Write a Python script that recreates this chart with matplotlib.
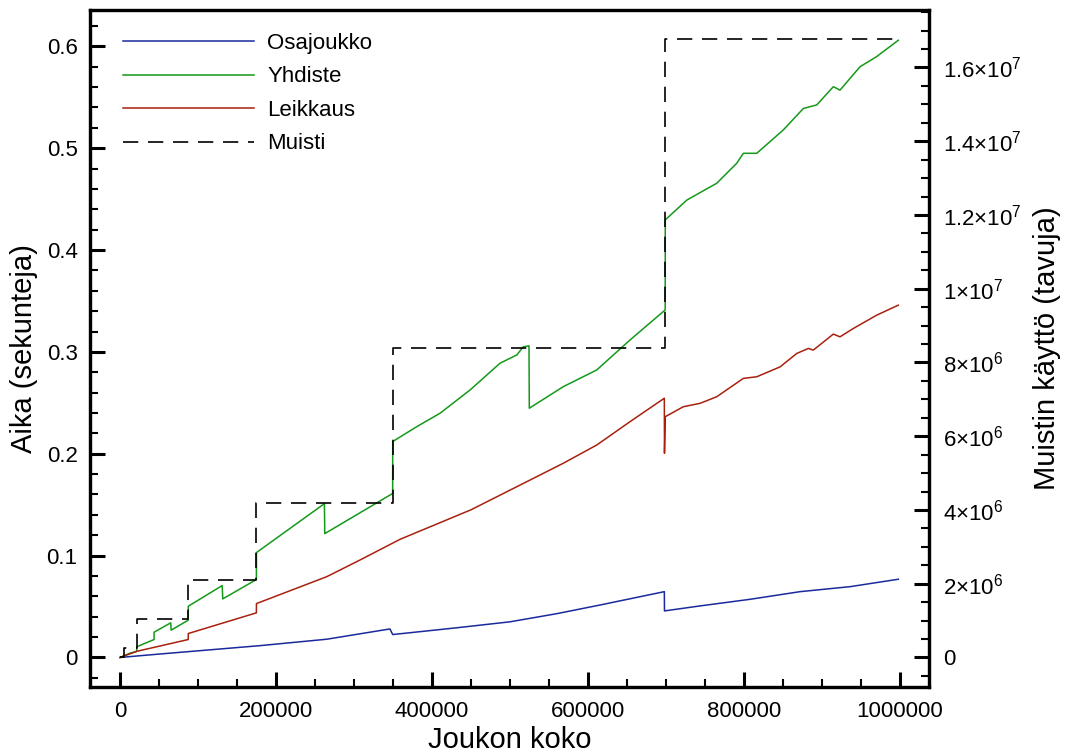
import matplotlib
matplotlib.use("Agg")
import matplotlib.pyplot as plt
from matplotlib.ticker import MultipleLocator, FuncFormatter
import math

plt.rcParams['font.family'] = ['Liberation Sans', 'DejaVu Sans']
plt.rcParams['mathtext.fontset'] = 'custom'
plt.rcParams['mathtext.rm'] = 'Liberation Sans'
plt.rcParams['mathtext.it'] = 'Liberation Sans:italic'
plt.rcParams['mathtext.bf'] = 'Liberation Sans:bold'
plt.rcParams['lines.scale_dashes'] = False

# --- Osajoukko (subset) timing, seconds ---
osa_n = [0, 51300, 179500, 265000, 346000, 349600, 430000, 500000, 560000,
         615400, 697800, 698000, 743600, 807700, 871800, 935900, 997800]
osa_t = [0.0, 0.0034, 0.0116, 0.0179, 0.0280, 0.0225, 0.0290, 0.0350, 0.0430,
         0.0515, 0.0646, 0.0457, 0.0506, 0.0571, 0.0646, 0.0695, 0.0768]

# --- Yhdiste (union) timing, seconds ---
yhd_n = [0, 12000, 21400, 21500, 43600, 43700, 65000, 65500, 87400, 87500,
         131000, 131700, 174800, 174900, 262000, 262500, 349500, 349600,
         380400, 410300, 448700, 487200, 508600, 517000, 524300, 524700,
         568300, 611200, 653800, 698900, 699000, 726500, 765000, 790600,
         799100, 816300, 850400, 876000, 893200, 914500, 923000, 948700,
         970100, 997800]
yhd_t = [0.0, 0.004, 0.006, 0.0105, 0.0176, 0.0248, 0.034, 0.0268, 0.0366, 0.0503,
         0.0706, 0.0575, 0.0765, 0.103, 0.151, 0.1216, 0.161, 0.212,
         0.2266, 0.2398, 0.2626, 0.2889, 0.297, 0.305, 0.306, 0.2447,
         0.2659, 0.2823, 0.3117, 0.3412, 0.4296, 0.449, 0.4656, 0.4852,
         0.495, 0.495, 0.518, 0.539, 0.5425, 0.5604, 0.557, 0.580,
         0.590, 0.606]

# --- Leikkaus (intersection) timing, seconds ---
lei_n = [0, 21400, 87400, 87500, 174800, 174900, 265000, 307700, 359000,
         450000, 534200, 568300, 611200, 653800, 697800, 698000, 699000,
         722200, 743600, 765000, 799100, 816300, 846200, 867600, 882400,
         888800, 914500, 923000, 940100, 970100, 997800]
lei_t = [0.0, 0.006, 0.0176, 0.0235, 0.0438, 0.0529, 0.0793, 0.0957, 0.116,
         0.145, 0.1775, 0.1907, 0.2086, 0.2315, 0.2545, 0.2005, 0.2364,
         0.2462, 0.2495, 0.256, 0.274, 0.2756, 0.2853, 0.2985, 0.3034,
         0.3018, 0.3175, 0.3148, 0.323, 0.3361, 0.3459]

# --- Muisti (memory use), bytes ---
mem_n = [0, 5000, 21400, 87400, 174800, 349500, 699000, 1000000]
mem_b = [0, 262144, 1048576, 2097152, 4194304, 8388608, 16777216, 16777216]

W, H = 1066, 756
fig = plt.figure(figsize=(W / 100, H / 100), dpi=100)
ax = fig.add_axes([90 / W, 1 - 687.3 / H, 839.3 / W, 677.3 / H])
ax2 = ax.twinx()

c_blue = '#1a2a9c'
c_green = '#14991a'
c_red = '#a8200e'

l1, = ax.plot(osa_n, osa_t, color=c_blue, lw=1.1, label='Osajoukko')
l2, = ax.plot(yhd_n, yhd_t, color=c_green, lw=1.1, label='Yhdiste')
l3, = ax.plot(lei_n, lei_t, color=c_red, lw=1.1, label='Leikkaus')
l4, = ax2.plot(mem_n, mem_b, color='black', lw=1.2, drawstyle='steps-post',
               linestyle=(0, (11, 7)), label='Muisti')

ax.set_xlim(-38500, 1037500)
ax.set_ylim(-0.0293, 0.6357)
ax2.set_ylim(-0.0293 * 27.62e6, 0.6357 * 27.62e6)

ax.xaxis.set_major_locator(MultipleLocator(200000))
ax.xaxis.set_minor_locator(MultipleLocator(50000))
ax.yaxis.set_major_locator(MultipleLocator(0.1))
ax.yaxis.set_minor_locator(MultipleLocator(0.02))
ax2.yaxis.set_major_locator(MultipleLocator(2e6))
ax2.yaxis.set_minor_locator(MultipleLocator(5e5))

ax.xaxis.set_major_formatter(FuncFormatter(lambda v, p: '%d' % round(v)))
ax.yaxis.set_major_formatter(FuncFormatter(lambda v, p: '%g' % round(v, 3)))


def mem_fmt(v, p):
    if abs(v) < 1:
        return '0'
    e = int(math.floor(math.log10(abs(v))))
    m = v / 10 ** e
    return '%g×10$^{%d}$' % (round(m, 2), e)


ax2.yaxis.set_major_formatter(FuncFormatter(mem_fmt))

for a in (ax, ax2):
    for s in a.spines.values():
        s.set_linewidth(2.3)
    a.tick_params(which='major', direction='in', length=11, width=2.2, labelsize=16)
    a.tick_params(which='minor', direction='in', length=6, width=1.5)

ax.tick_params(axis='both', which='both', top=False, right=False)
ax.tick_params(axis='x', which='major', pad=10)
ax.tick_params(axis='y', which='major', pad=9)
ax2.tick_params(axis='y', which='both', left=False, right=True)
ax2.tick_params(axis='y', which='major', pad=10)

ax.set_xlabel('Joukon koko', fontsize=21, labelpad=3)
ax.set_ylabel('Aika (sekunteja)', fontsize=21, labelpad=6)
ax2.set_ylabel('Muistin käyttö (tavuja)', fontsize=21, labelpad=8)

ax.legend(handles=[l1, l2, l3, l4], loc='upper left',
          bbox_to_anchor=(0.039, 0.966), frameon=False, fontsize=16,
          handlelength=5.9, handletextpad=0.6, labelspacing=0.56,
          borderpad=0, borderaxespad=0)

fig.savefig('out.png', dpi=100)
